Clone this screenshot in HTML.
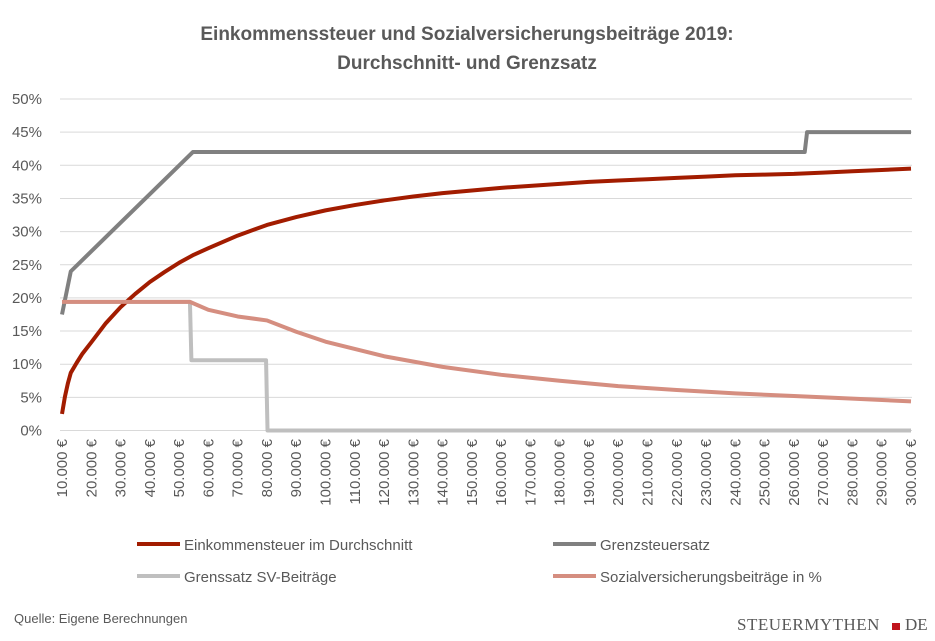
<!DOCTYPE html>
<html><head><meta charset="utf-8"><style>
body{margin:0;background:#fff;font-family:"Liberation Sans",sans-serif}
svg text{font-family:"Liberation Sans",sans-serif}
</style></head><body>
<svg width="935" height="636" xmlns="http://www.w3.org/2000/svg">
<text x="467" y="40" text-anchor="middle" font-size="19" font-weight="bold" fill="#595959">Einkommenssteuer und Sozialversicherungsbeiträge 2019:</text>
<text x="467" y="69" text-anchor="middle" font-size="19" font-weight="bold" fill="#595959">Durchschnitt- und Grenzsatz</text>
<g id="grid"></g><g id="ylab"></g><g id="xlab"></g><g id="lines"></g>
<g>
<line x1="137" y1="544" x2="180" y2="544" stroke="#a21c00" stroke-width="4"/>
<text x="184" y="550" font-size="15" fill="#595959">Einkommensteuer im Durchschnitt</text>
<line x1="553" y1="544" x2="596" y2="544" stroke="#808080" stroke-width="4"/>
<text x="600" y="550" font-size="15" fill="#595959">Grenzsteuersatz</text>
<line x1="137" y1="576" x2="180" y2="576" stroke="#bfbfbf" stroke-width="4"/>
<text x="184" y="582" font-size="15" fill="#595959">Grenssatz SV-Beiträge</text>
<line x1="553" y1="576" x2="596" y2="576" stroke="#d58e80" stroke-width="4"/>
<text x="600" y="582" font-size="15" fill="#595959">Sozialversicherungsbeiträge in %</text>
</g>
<text x="14" y="623" font-size="13" fill="#595959">Quelle: Eigene Berechnungen</text>
<g>
<text x="737" y="630" font-size="17" fill="#595959" style="font-family:'Liberation Serif',serif;letter-spacing:0.5px">STEUERMYTHEN</text>
<rect x="892" y="623" width="8" height="7" fill="#c0141c"/>
<text x="905" y="630" font-size="17" fill="#595959" style="font-family:'Liberation Serif',serif">DE</text>
</g>
</svg>
<script>
const yTicks=[0,5,10,15,20,25,30,35,40,45,50];
const xTicks=[10,20,30,40,50,60,70,80,90,100,110,120,130,140,150,160,170,180,190,200,210,220,230,240,250,260,270,280,290,300];
const avgTaxX=[10,11,12,13,15,17,20,25,30,35,40,45,50,55,60,70,80,90,100,110,120,130,140,150,160,170,180,190,200,210,220,230,240,250,260,270,280,290,300];
const avgTaxY=[2.5,5.1,7.1,8.7,10.2,11.6,13.3,16.2,18.6,20.6,22.4,23.9,25.3,26.5,27.5,29.4,31,32.2,33.2,34,34.7,35.3,35.8,36.2,36.6,36.9,37.2,37.5,37.7,37.9,38.1,38.3,38.5,38.6,38.7,38.9,39.1,39.3,39.5];
const margX=[10,13,54.7,263.7,264.5,300];
const margY=[17.5,24,42,42,45,45];
const svMargX=[10,53.7,54.2,79.7,80.2,300];
const svMargY=[19.4,19.4,10.6,10.6,0,0];
const svAvgX=[10,53.7,60,70,80,90,100,120,140,160,180,200,220,240,260,280,300];
const svAvgY=[19.4,19.4,18.2,17.2,16.6,14.9,13.4,11.2,9.6,8.4,7.5,6.7,6.1,5.6,5.2,4.8,4.4];
const NS="http://www.w3.org/2000/svg";
const X=v=>62+(v-10)*(911-62)/290;
const Y=v=>430.5-v*(331.5/50);
function mk(t,a,p){const e=document.createElementNS(NS,t);for(const k in a)e.setAttribute(k,a[k]);p.appendChild(e);return e;}
const grid=document.getElementById('grid'),yl=document.getElementById('ylab'),xl=document.getElementById('xlab'),ln=document.getElementById('lines');
yTicks.forEach(v=>{
 const l=mk('line',{x1:60,x2:912,y1:Y(v),y2:Y(v),stroke:'#d9d9d9','stroke-width':1},grid);
 
 
 const t=mk('text',{x:42,y:Y(v)+5,'text-anchor':'end','font-size':15,fill:'#595959'},yl);
 t.textContent=v+'%';
 
 
});
xTicks.forEach(v=>{
 const x=X(v)+5;
 const t=mk('text',{x:x,y:439,transform:`rotate(-90 ${x} 439)`,'text-anchor':'end','font-size':15,fill:'#595959'},xl);
 t.textContent=v+'.000 €';
 
 
});
function line(xs,ys,col,name){
 const p=mk('polyline',{points:xs.map((x,i)=>X(x)+','+Y(ys[i])).join(' '),fill:'none',stroke:col,'stroke-width':4,'stroke-linejoin':'round'},ln);
 
 
}
line(svMargX,svMargY,'#bfbfbf','series-sv-marginal');
line(margX,margY,'#808080','series-marginal-tax');
line(avgTaxX,avgTaxY,'#a21c00','series-avg-tax');
line(svAvgX,svAvgY,'#d58e80','series-sv-avg');
</script>
</body></html>
